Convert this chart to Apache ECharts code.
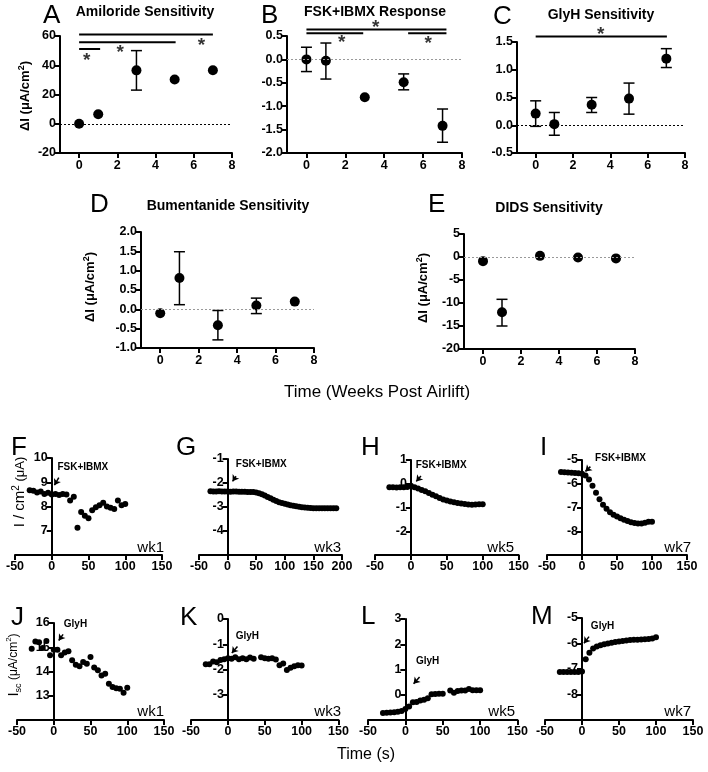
<!DOCTYPE html>
<html><head><meta charset="utf-8">
<script src="https://cdn.jsdelivr.net/npm/echarts@6/dist/echarts.min.js"></script>
<style>html,body{margin:0;padding:0;background:#fff}#c{width:708px;height:772px}</style>
</head><body><div id="c"></div>
<script>
const FONT = 'Liberation Sans, Arial, sans-serif';
const BLACK = '#000';

// ---- Panels A-E: weeks post airlift ----
const weeks = [0, 1, 3, 5, 7];
const weekTicks = [0, 2, 4, 6, 8];

const amilorideMean = [0, 6.5, 36.5, 30.2, 36.6];
const amilorideLow  = [null, null, 23, null, null];
const amilorideHigh = [null, null, 50, null, null];
const amilorideSigBars = [[0, 7, 61.1], [0, 5.05, 55.7], [0, 1.1, 51.1]];
const amilorideStars = [[0.4, 45.6], [2.15, 51.5], [6.4, 56]];

const fskMean = [0, -0.03, -0.81, -0.49, -1.42];
const fskLow  = [-0.26, -0.42, null, -0.65, -1.77];
const fskHigh = [0.26, 0.35, null, -0.31, -1.06];
const fskSigBars = [[0, 7.2, 0.64], [0, 2.92, 0.56], [5.23, 7.2, 0.56]];
const fskStars = [[3.56, 0.77], [1.81, 0.44], [6.26, 0.43]];

const glyhMean = [0.21, 0.02, 0.37, 0.48, 1.2];
const glyhLow  = [-0.02, -0.18, 0.23, 0.2, 1.04];
const glyhHigh = [0.44, 0.23, 0.5, 0.76, 1.38];
const glyhSigBars = [[0, 7.03, 1.6]];
const glyhStars = [[3.48, 1.71]];

const bumMean = [-0.1, 0.81, -0.41, 0.1, 0.2];
const bumLow  = [null, 0.12, -0.79, -0.11, null];
const bumHigh = [null, 1.49, -0.03, 0.29, null];

const didsMean = [-0.9, -12, 0.25, -0.1, -0.3];
const didsLow  = [null, -15, null, null, null];
const didsHigh = [null, -9.2, null, null, null];

// ---- Panels F-M: time courses (s) ----
const traceTime = [-30,-25,-20,-15,-10,-5,0,5,10,15,20,25,30,35,40,45,50,55,60,65,70,75,80,85,90,95,100];
const traceTimeG = [-30,-25,-20,-15,-10,-5,0,5,10,15,20,25,30,35,40,45,50,55,60,65,70,75,80,85,90,95,100,105,110,115,120,125,130,135,140,145,150,155,160,165,170,175,180,185,190];
const traceTimeK = [-30,-25,-20,-15,-10,-5,0,5,10,15,20,25,30,35,45,50,55,60,65,70,75,80,85,90,95,100];
const traceTimeL = [-30,-25,-20,-15,-10,-5,0,5,10,15,20,25,30,35,40,45,50,60,65,70,75,80,85,90,95,100];

const fskWk1 = [8.67,8.65,8.58,8.62,8.52,8.57,8.5,8.52,8.47,8.52,8.5,8.25,8.4,7.12,7.77,7.62,7.52,7.85,7.97,8.05,8.15,8.0,7.95,7.9,8.25,8.05,8.1];
const fskWk3 = [-2.34,-2.35,-2.35,-2.34,-2.35,-2.35,-2.35,-2.36,-2.35,-2.35,-2.36,-2.36,-2.36,-2.37,-2.37,-2.38,-2.4,-2.43,-2.47,-2.52,-2.58,-2.64,-2.7,-2.75,-2.8,-2.83,-2.86,-2.9,-2.93,-2.95,-2.97,-2.99,-3.01,-3.02,-3.03,-3.04,-3.05,-3.05,-3.05,-3.05,-3.05,-3.05,-3.05,-3.05,-3.05];
const fskWk5 = [-0.15,-0.15,-0.16,-0.15,-0.15,-0.14,-0.08,-0.15,-0.2,-0.26,-0.32,-0.39,-0.46,-0.53,-0.6,-0.66,-0.71,-0.75,-0.78,-0.81,-0.83,-0.85,-0.87,-0.88,-0.87,-0.86,-0.86];
const fskWk7 = [-5.5,-5.52,-5.53,-5.54,-5.55,-5.56,-5.58,-5.65,-5.82,-6.08,-6.38,-6.65,-6.88,-7.05,-7.2,-7.3,-7.38,-7.45,-7.52,-7.57,-7.62,-7.65,-7.67,-7.67,-7.64,-7.6,-7.6];
const glyhWk1 = [14.94,15.24,15.21,14.97,15.26,14.67,14.9,14.9,14.67,14.78,14.83,14.46,14.28,14.22,14.39,14.32,14.6,14.16,14.05,13.84,13.91,13.5,13.36,13.31,13.29,13.12,13.33];
const glyhWk3 = [-1.79,-1.79,-1.68,-1.71,-1.62,-1.59,-1.55,-1.57,-1.51,-1.59,-1.55,-1.59,-1.52,-1.57,-1.51,-1.55,-1.57,-1.55,-1.6,-1.83,-1.76,-2.02,-1.93,-1.87,-1.83,-1.84];
const glyhWk5 = [-0.72,-0.71,-0.7,-0.69,-0.67,-0.64,-0.56,-0.47,-0.3,-0.29,-0.23,-0.2,-0.14,0.02,0.03,0.04,0.04,0.17,0.08,0.15,0.17,0.17,0.23,0.18,0.18,0.18];
const glyhWk7 = [-7.12,-7.12,-7.12,-7.12,-7.12,-7.12,-7.1,-6.62,-6.36,-6.2,-6.12,-6.07,-6.03,-6.0,-5.97,-5.94,-5.92,-5.9,-5.88,-5.86,-5.85,-5.85,-5.84,-5.83,-5.82,-5.8,-5.75];

const chart = echarts.init(document.getElementById('c'), null, {renderer: 'canvas'});
const grids = [], xAxes = [], yAxes = [], series = [];

const axisLineStyle = {color: BLACK, width: 2};
const tickLabel = {fontSize: 12.5, fontWeight: 'bold', color: BLACK, fontFamily: FONT};

function errorBarItem(params, api) {
  const x = api.value(0);
  const lo = api.coord([x, api.value(1)]);
  const hi = api.coord([x, api.value(2)]);
  const w = 5.5;
  const style = {stroke: BLACK, lineWidth: 1.5, fill: null};
  return {type: 'group', children: [
    {type: 'line', shape: {x1: lo[0], y1: lo[1], x2: hi[0], y2: hi[1]}, style},
    {type: 'line', shape: {x1: lo[0] - w, y1: lo[1], x2: lo[0] + w, y2: lo[1]}, style},
    {type: 'line', shape: {x1: hi[0] - w, y1: hi[1], x2: hi[0] + w, y2: hi[1]}, style}
  ]};
}

function addWeekPanel(box, ymin, ymax, yint, dec, mean, low, high, zeroColor, sigBars, stars) {
  const i = grids.length;
  grids.push({left: box[0], top: box[1], width: box[2], height: box[3]});
  xAxes.push({type: 'value', gridIndex: i, min: -1, max: 8,
    axisLine: {show: true, onZero: false, lineStyle: axisLineStyle},
    axisTick: {show: true, customValues: weekTicks, length: 5, lineStyle: axisLineStyle},
    axisLabel: Object.assign({customValues: weekTicks, margin: 6}, tickLabel),
    splitLine: {show: false}});
  yAxes.push({type: 'value', gridIndex: i, min: ymin, max: ymax, interval: yint,
    axisLine: {show: true, onZero: false, lineStyle: axisLineStyle},
    axisTick: {show: true, length: 5, lineStyle: axisLineStyle},
    axisLabel: Object.assign({margin: 4, formatter: v => dec ? v.toFixed(dec) : String(v)}, tickLabel),
    splitLine: {show: false}});
  const pts = weeks.map((w, k) => [w, mean[k]]);
  const err = [];
  weeks.forEach((w, k) => { if (low[k] != null) err.push([w, low[k], high[k]]); });
  series.push({type: 'custom', xAxisIndex: i, yAxisIndex: i, renderItem: errorBarItem,
    data: err, encode: {x: 0, y: [1, 2]}, clip: false, z: 3, silent: true});
  series.push({type: 'scatter', xAxisIndex: i, yAxisIndex: i, data: pts, symbolSize: 10,
    itemStyle: {color: BLACK, opacity: 1}, z: 4, silent: true,
    markLine: {silent: true, symbol: 'none', label: {show: false},
      lineStyle: {color: zeroColor, width: 1, type: [2, 2]}, data: [{yAxis: 0}]}});
  sigBars.forEach(b => series.push({type: 'line', xAxisIndex: i, yAxisIndex: i,
    data: [[b[0], b[2]], [b[1], b[2]]], symbol: 'none', clip: false, silent: true,
    lineStyle: {color: BLACK, width: 2}}));
  if (stars.length) series.push({type: 'scatter', xAxisIndex: i, yAxisIndex: i, data: stars,
    symbolSize: 1, itemStyle: {color: 'rgba(0,0,0,0)'}, clip: false, silent: true,
    label: {show: true, formatter: '*', position: 'inside', offset: [0, 4], fontSize: 19,
      fontWeight: 'bold', color: BLACK, fontFamily: FONT}});
}

function addTracePanel(box, xmax, ymin, ymax, times, values, text, textAt, arrow) {
  const i = grids.length;
  grids.push({left: box[0], top: box[1], width: box[2], height: box[3]});
  xAxes.push({type: 'value', gridIndex: i, min: -50, max: xmax, interval: 50,
    axisLine: {show: true, onZero: false, lineStyle: axisLineStyle},
    axisTick: {show: true, length: 5, lineStyle: axisLineStyle},
    axisLabel: Object.assign({margin: 5}, tickLabel),
    splitLine: {show: false}});
  // y axis drawn where time = 0 (GraphPad style): shift it inward from the grid's left edge
  const shift = box[2] * 50 / (xmax + 50);
  yAxes.push({type: 'value', gridIndex: i, min: ymin, max: ymax, interval: 1, offset: -shift,
    axisLine: {show: true, onZero: false, lineStyle: axisLineStyle},
    axisTick: {show: true, length: 5, lineStyle: axisLineStyle},
    axisLabel: Object.assign({margin: 4, formatter: v => v === ymin ? '' : String(v)}, tickLabel),
    splitLine: {show: false}});
  series.push({type: 'scatter', xAxisIndex: i, yAxisIndex: i, silent: true, clip: false,
    data: times.map((t, k) => [t, values[k]]), symbolSize: 6, itemStyle: {color: BLACK, opacity: 1}, z: 4,
    markLine: {silent: true, symbol: ['none', 'arrow'], symbolSize: 6, label: {show: false},
      lineStyle: {color: BLACK, width: 1.5, type: 'solid'},
      data: [[{coord: [arrow[0], arrow[1]]}, {coord: [arrow[2], arrow[3]]}]]},
    markPoint: {silent: true, symbol: 'circle', symbolSize: 1, itemStyle: {color: 'rgba(0,0,0,0)'},
      label: {show: true, formatter: text, position: 'right', distance: 0, fontSize: 10,
        fontWeight: 'bold', color: BLACK, fontFamily: FONT, offset: [0, textAt[2] || 0]},
      data: [{coord: [textAt[0], textAt[1]]}]}});
}

addWeekPanel([60, 36, 172, 117], -20, 60, 20, 0, amilorideMean, amilorideLow, amilorideHigh, BLACK, amilorideSigBars, amilorideStars);
addWeekPanel([287, 36, 175, 117], -2, 0.5, 0.5, 1, fskMean, fskLow, fskHigh, '#999', fskSigBars, fskStars);
addWeekPanel([517, 42, 168, 111], -0.5, 1.5, 0.5, 1, glyhMean, glyhLow, glyhHigh, BLACK, glyhSigBars, glyhStars);
addWeekPanel([141, 232, 173, 116], -1, 2, 0.5, 1, bumMean, bumLow, bumHigh, '#999', [], []);
addWeekPanel([464, 234, 171, 115], -20, 5, 5, 0, didsMean, didsLow, didsHigh, '#999', [], []);

addTracePanel([15, 458, 147, 97], 150, 6, 10, traceTime, fskWk1, 'FSK+IBMX', [7, 9.63], [9.6, 9.19, 3.6, 8.88]);
addTracePanel([199, 459, 143, 96], 200, -5, -1, traceTimeG, fskWk3, 'FSK+IBMX', [13.5, -1.2], [14.7, -1.72, 8.7, -1.93]);
addTracePanel([375, 460, 143.6, 95], 150, -3, 1, traceTime, fskWk5, 'FSK+IBMX', [6, 0.8], [14, 0.33, 7.5, 0.1]);
addTracePanel([547, 460, 140, 95], 150, -9, -5, traceTime, fskWk7, 'FSK+IBMX', [18, -5, -2], [12, -5.28, 4.9, -5.48]);
addTracePanel([17, 623, 147, 97], 150, 12, 16, traceTime, glyhWk1, 'GlyH', [13, 15.95], [12.7, 15.53, 6.8, 15.28]);
addTracePanel([191, 619, 147.5, 101], 150, -4, 0, traceTimeK, glyhWk3, 'GlyH', [10, -0.69], [13, -1.09, 5.4, -1.35]);
addTracePanel([368, 619, 149.5, 101], 150, -1, 3, traceTimeL, glyhWk5, 'GlyH', [13.5, 1.33], [19, 0.7, 11, 0.44]);
addTracePanel([545, 618, 148, 102], 150, -9, -5, traceTime, glyhWk7, 'GlyH', [11.3, -5.33], [9.5, -5.73, 2.7, -5.99]);

// ---- free texts ----
const graphic = [];
function txt(text, x, y, size, weight, align) {
  graphic.push({type: 'text', x, y, silent: true,
    style: {text, fontSize: size, fontWeight: weight, fontFamily: FONT, fill: BLACK,
      align: align || 'center', verticalAlign: 'middle'}});
}
[['A', 43, 16], ['B', 261, 16], ['C', 493, 17], ['D', 90, 205], ['E', 428, 205],
 ['F', 11, 448], ['G', 176, 448], ['H', 361, 448], ['I', 540, 448],
 ['J', 11, 618], ['K', 180, 618], ['L', 361, 617], ['M', 531, 617]]
  .forEach(l => txt(l[0], l[1], l[2], 26, 'normal', 'left'));

[['Amiloride Sensitivity', 145, 12], ['FSK+IBMX Response', 375, 12], ['GlyH Sensitivity', 601, 15],
 ['Bumentanide Sensitivity', 228, 206], ['DIDS Sensitivity', 549, 208]]
  .forEach(t => txt(t[0], t[1], t[2], 14, 'bold', 'center'));

[['wk1', 164, 548], ['wk3', 341, 548], ['wk5', 514, 548], ['wk7', 691, 548],
 ['wk1', 164, 712], ['wk3', 341, 712], ['wk5', 515, 712], ['wk7', 691, 712]]
  .forEach(t => txt(t[0], t[1], t[2], 15, 'normal', 'right'));

txt('Time (Weeks Post Airlift)', 377, 392, 17, 'normal', 'center');
txt('Time (s)', 366, 755, 16, 'normal', 'center');

function rotText(text, rich, x, y) {
  graphic.push({type: 'text', x, y, rotation: Math.PI / 2, silent: true,
    style: {text, rich, fontFamily: FONT, fill: BLACK, align: 'center', verticalAlign: 'middle'}});
}
const dRich = {a: {fontSize: 13, fontWeight: 'bold', fontFamily: FONT, lineHeight: 16},
               s: {fontSize: 9, fontWeight: 'bold', fontFamily: FONT, verticalAlign: 'top', lineHeight: 10}};
rotText('{a|ΔI (μA/cm}{s|2}{a|)}', dRich, 25, 96);
rotText('{a|ΔI (μA/cm}{s|2}{a|)}', dRich, 90, 287);
rotText('{a|ΔI (μA/cm}{s|2}{a|)}', dRich, 423, 288);
rotText('{a|I / cm}{s|2}{b| (μA)}', {
  a: {fontSize: 15, fontFamily: FONT, lineHeight: 18},
  s: {fontSize: 10, fontFamily: FONT, verticalAlign: 'top', lineHeight: 11},
  b: {fontSize: 13, fontFamily: FONT, lineHeight: 18}}, 20, 492);
rotText('{a|I}{u|sc}{b| (μA/cm}{s|2}{b|)}', {
  a: {fontSize: 15, fontFamily: FONT, lineHeight: 18},
  u: {fontSize: 9, fontFamily: FONT, verticalAlign: 'bottom', lineHeight: 10},
  b: {fontSize: 12, fontFamily: FONT, lineHeight: 18},
  s: {fontSize: 8, fontFamily: FONT, verticalAlign: 'top', lineHeight: 9}}, 14, 665);

chart.setOption({
  animation: false,
  backgroundColor: '#fff',
  grid: grids, xAxis: xAxes, yAxis: yAxes, series, graphic
});
</script></body></html>
